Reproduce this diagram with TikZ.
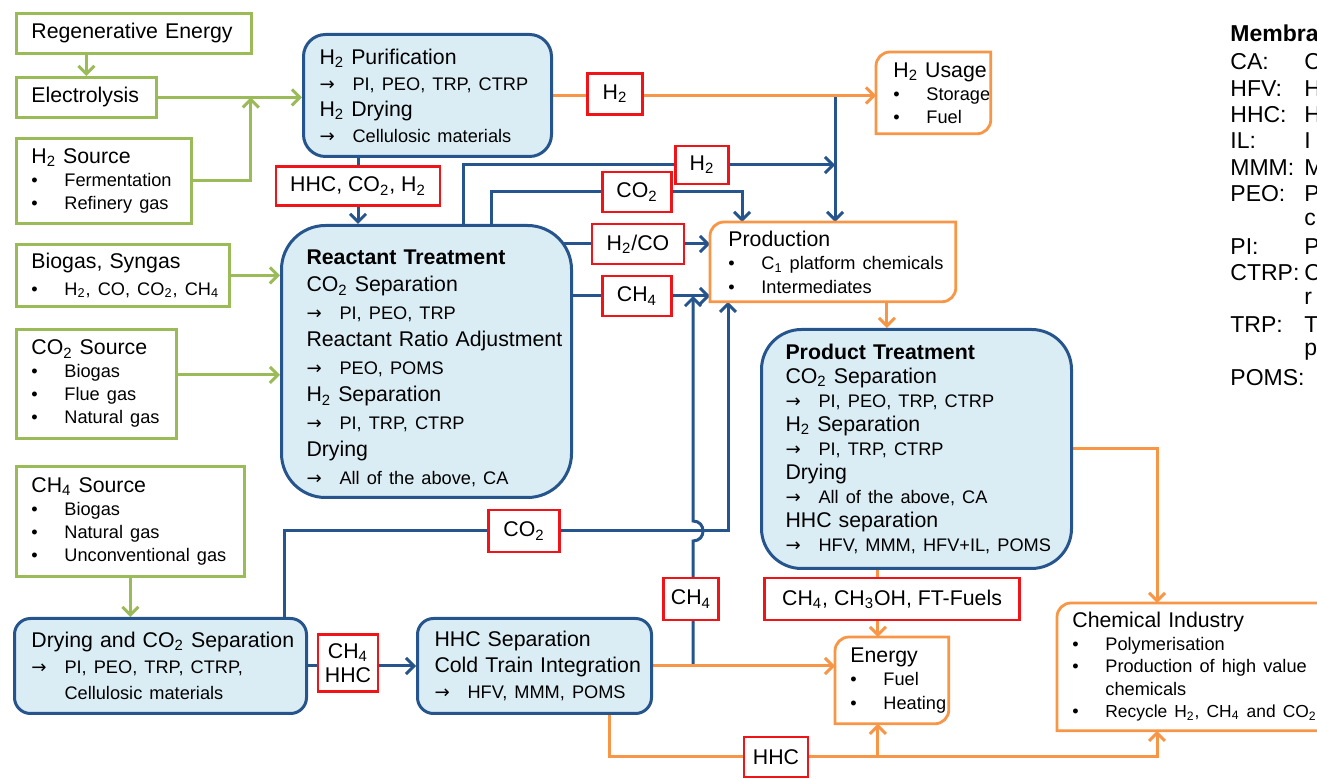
\documentclass[tikz,border=0pt]{standalone}
\usepackage{fontspec}
\setmainfont{Liberation Sans}
\newfontfamily\symfont{DejaVu Sans}
\usetikzlibrary{arrows.meta,backgrounds}

\definecolor{srcgreen}{RGB}{155,187,89}
\definecolor{procblue}{RGB}{38,84,140}
\definecolor{procfill}{RGB}{218,237,244}
\definecolor{outorange}{RGB}{247,150,70}
\definecolor{labred}{RGB}{240,20,24}

\newcommand\sub[1]{\textsubscript{#1}}
\newcommand\sm{\fontsize{9.1}{11}\selectfont}
\newcommand\bul{\makebox[16.5pt][l]{•}}
\newcommand\arr{\makebox[16.5pt][l]{\symfont →}}
\newcommand\outframe[1]{%
  \draw[orangeframe] (#1.north east) -- ([xshift=7pt]#1.north west)
    arc[start angle=90,end angle=180,radius=7pt] -- (#1.south west)
    -- ([xshift=-7pt]#1.south east) arc[start angle=270,end angle=360,radius=7pt] -- cycle;}

\begin{document}
\begin{tikzpicture}[x=0.5pt,y=-0.5pt,
    boxsize/.style 2 args={minimum width=#1,text width=#1,minimum height=#2},
    lpad/.style={execute at begin node={\leftskip=#1\relax}},
    srcbox/.style={draw=srcgreen,line width=1.4pt,fill=white,anchor=north west,align=left,
      inner xsep=0pt,inner ysep=0pt,lpad=7.5pt,font=\fontsize{10.65}{11.5}\selectfont},
    procbox/.style={draw=procblue,line width=1.5pt,fill=procfill,anchor=north west,align=left,
      inner xsep=0pt,inner ysep=0pt},
    outbox/.style={fill=white,anchor=north west,align=left,inner xsep=0pt,inner ysep=0pt,
      font=\fontsize{10.65}{11.5}\selectfont},
    orangeframe/.style={draw=outorange,line width=1.4pt},
    redtag/.style={draw=labred,line width=1.2pt,fill=white,inner sep=0pt,align=center,
      font=\fontsize{10.65}{12}\selectfont},
    feed/.style={srcgreen,line width=1.5pt,-{Straight Barb[length=4pt,width=8pt]}},
    flow/.style={procblue,line width=1.5pt,-{Straight Barb[length=4pt,width=8pt]}},
    outflow/.style={outorange,line width=1.5pt,-{Straight Barb[length=4pt,width=8pt]}},
    legtext/.style={anchor=west,inner sep=0pt,font=\fontsize{11.5}{13}\selectfont}]
  \useasboundingbox (0,0) rectangle (1317,779);
  \clip (0,0) rectangle (1317,779);

  \node[srcbox,boxsize={117.5pt}{20pt}] (regen) at (15,12) {Regenerative Energy};
  \node[srcbox,boxsize={70pt}{20pt}] (elec) at (15,76) {Electrolysis};
  \node[srcbox,boxsize={87.5pt}{42.5pt}] (h2src) at (15,137)
    {H\sub2 Source\\{\sm\bul Fermentation}\\{\sm\bul Refinery gas}};
  \node[srcbox,boxsize={106.5pt}{31pt}] (biosyn) at (15,243)
    {Biogas, Syngas\\[2pt]{\sm\bul H\sub2, CO, CO\sub2, CH\sub4}};
  \node[srcbox,boxsize={80pt}{54.5pt}] (co2src) at (15,328)
    {CO\sub2 Source\\{\sm\bul Biogas}\\{\sm\bul Flue gas}\\{\sm\bul Natural gas}};
  \node[srcbox,boxsize={114pt}{55pt}] (ch4src) at (15,465)
    {CH\sub4 Source\\{\sm\bul Biogas}\\{\sm\bul Natural gas}\\{\sm\bul Unconventional gas}};

  \node[procbox,boxsize={124pt}{61pt},rounded corners=11pt,lpad=8pt,
    font=\fontsize{10.65}{13}\selectfont] (h2pur) at (302,33)
    {H\sub2 Purification\\{\sm\arr PI, PEO, TRP, CTRP}\\H\sub2 Drying\\{\sm\arr Cellulosic materials}};
  \node[procbox,boxsize={145pt}{136pt},rounded corners=22pt,lpad=12.5pt,
    font=\fontsize{10.65}{13.75}\selectfont] (react) at (280,224)
    {\rule{0pt}{14pt}\textbf{Reactant Treatment}\\CO\sub2 Separation\\{\sm\arr PI, PEO, TRP}\\
     Reactant Ratio Adjustment\\{\sm\arr PEO, POMS}\\H\sub2 Separation\\
     {\sm\arr PI, TRP, CTRP}\\Drying\\{\sm\arr All of the above, CA}};
  \node[procbox,boxsize={155pt}{119.5pt},rounded corners=20pt,lpad=12pt,
    font=\fontsize{10.65}{12}\selectfont] (prodtr) at (760,328)
    {\textbf{Product Treatment}\\CO\sub2 Separation\\{\sm\arr PI, PEO, TRP, CTRP}\\
     H\sub2 Separation\\{\sm\arr PI, TRP, CTRP}\\Drying\\{\sm\arr All of the above, CA}\\
     HHC separation\\{\sm\arr HFV, MMM, HFV+IL, POMS}};
  \node[procbox,boxsize={146pt}{47.5pt},rounded corners=8pt,lpad=8.5pt,
    font=\fontsize{10.65}{13}\selectfont] (dry) at (13,617)
    {Drying and CO\sub2 Separation\\{\sm\arr PI, PEO, TRP, CTRP,}\\{\sm\hspace*{16.5pt}Cellulosic materials}};
  \node[procbox,boxsize={117pt}{47.5pt},rounded corners=8pt,lpad=8.5pt,
    font=\fontsize{10.65}{13}\selectfont] (hhcsep) at (416,617)
    {HHC Separation\\Cold Train Integration\\{\sm\arr HFV, MMM, POMS}};

  \node[outbox,boxsize={57pt}{40.5pt},lpad=8.5pt] (h2use) at (876,52)
    {H\sub2 Usage\\{\sm\bul Storage}\\{\sm\bul Fuel}};
  \node[outbox,boxsize={122.5pt}{39.5pt},lpad=9pt,font=\fontsize{10.65}{11.75}\selectfont] (prod) at (710,222)
    {Production\\{\sm\bul C\sub1 platform chemicals}\\{\sm\bul Intermediates}};
  \node[outbox,boxsize={56.5pt}{43pt},lpad=7.5pt,font=\fontsize{10.65}{11.75}\selectfont] (energy) at (835,637)
    {Energy\\{\sm\bul Fuel}\\{\sm\bul Heating}};
  \node[outbox,boxsize={145pt}{63.5pt},lpad=7.5pt,font=\fontsize{10.65}{11.25}\selectfont] (chem) at (1057,603)
    {Chemical Industry\\{\sm\bul Polymerisation}\\{\sm\bul Production of high value}\\
     {\sm\hspace*{16.5pt}chemicals}\\{\sm\bul\fontsize{8.7}{11}\selectfont Recycle H\sub2, CH\sub4 and CO\sub2}};
  \foreach \n in {h2use,prod,energy,chem} \outframe{\n};

  \node[redtag,minimum width=27.5pt,minimum height=20.5pt] (lH2a) at (615,94) {H\sub2};
  \node[redtag,minimum width=82pt,minimum height=19.5pt] (lMix) at (358,186) {HHC, CO\sub2, H\sub2};
  \node[redtag,minimum width=26.5pt,minimum height=19pt] (lH2b) at (702,165) {H\sub2};
  \node[redtag,minimum width=34.5pt,minimum height=20pt] (lCO2a) at (637,192) {CO\sub2};
  \node[redtag,minimum width=46pt,minimum height=20pt] (lH2CO) at (638,244) {H\sub2/CO};
  \node[redtag,minimum width=34.5pt,minimum height=20pt] (lCH4a) at (637,296) {CH\sub4};
  \node[redtag,minimum width=35.5pt,minimum height=21pt] (lCO2b) at (524,531) {CO\sub2};
  \node[redtag,minimum width=27.5pt,minimum height=21pt] (lCH4b) at (691,599) {CH\sub4};
  \node[redtag,minimum width=127.5pt,minimum height=21pt] (lFuel) at (892,599) {CH\sub4, CH\sub3OH, FT-Fuels};
  \node[redtag,minimum width=30pt,minimum height=28.5pt] (lMixB) at (348,663) {CH\sub4\\HHC};
  \node[redtag,minimum width=32pt,minimum height=20pt] (lHHC) at (776,757) {HHC};

  \coordinate (jH2) at ([xshift=46.5pt]elec.east);
  \coordinate (jProd) at ([xshift=62.5pt]prod.north west |- h2pur.east);
  \coordinate (jHHC) at ([xshift=20pt]hhcsep.east);

  \begin{pgfonlayer}{background}
    \draw[feed] (elec.north |- regen.south) -- (elec.north);
    \draw[feed] (elec.east) -- (h2pur.west |- elec.east);
    \draw[feed] (h2src.east) -| (jH2);
    \draw[feed] (biosyn.east) -- (react.west |- biosyn.east);
    \draw[feed] ([yshift=4.5pt]co2src.east) coordinate (cs) -- (react.west |- cs);
    \draw[feed] (ch4src.south) -- (ch4src.south |- dry.north);

    \draw[flow] (h2pur.south -| lMix) -- (react.north -| lMix);
    \draw[flow] ([xshift=18.5pt]react.north) |- (lH2b) -- (jProd |- lH2b);
    \draw[flow] (jProd) -- (jProd |- prod.north);
    \draw[flow] ([xshift=32.5pt]react.north) |- (lCO2a) -| ([xshift=16pt]prod.north west);
    \draw[flow] (react.center |- lH2CO) -- (prod.west |- lH2CO);
    \draw[flow] (react.center |- lCH4a) -- (prod.west |- lCH4a);
    \draw[flow] ([xshift=62pt]dry.north) |- (lCO2b) -| ([xshift=9pt]prod.south west);
    \draw[flow] (jHHC) -- ([yshift=-5pt]jHHC |- lCO2b)
      .. controls +(6.7pt,0) and +(6.7pt,0) .. ([yshift=5pt]jHHC |- lCO2b) -- (jHHC |- lCH4a);
    \draw[flow] (dry.east) -- (hhcsep.west);

    \draw[outflow] (h2pur.east) -- (h2use.west |- h2pur.east);
    \draw[outflow] ([xshift=27pt]prod.south) -- ([xshift=27pt]prod.south |- prodtr.north);
    \draw[outflow] ([xshift=-7pt]energy.north |- prodtr.south) -- ([xshift=-7pt]energy.north);
    \draw[outflow] (prodtr.east) -| ([xshift=50pt]chem.north west);
    \draw[outflow] (hhcsep.east) -- (energy.west |- hhcsep.east);
    \draw[outflow] ([xshift=37.5pt]hhcsep.south) |- (lHHC) -| ([xshift=50pt]chem.south west);
    \draw[outflow] ([xshift=-7pt]energy.south |- lHHC) -- ([xshift=-7pt]energy.south);
  \end{pgfonlayer}

  \node[legtext,font=\fontsize{11.5}{13}\selectfont\bfseries] (legtitle) at (1230,33) {Membra};
  \foreach \ab/\tx [count=\i] in {CA:/C,HFV:/H,HHC:/H,IL:/I,MMM:/M,PEO:/P,/c,PI:/P,CTRP:/C,/r,TRP:/T,/p,POMS:/} {
    \node[legtext] (ab\i) at (1230,{35.7+26.3*\i}) {\ab};
    \node[legtext] (tx\i) at (1304,{35.7+26.3*\i}) {\tx};
  }
\end{tikzpicture}
\end{document}
